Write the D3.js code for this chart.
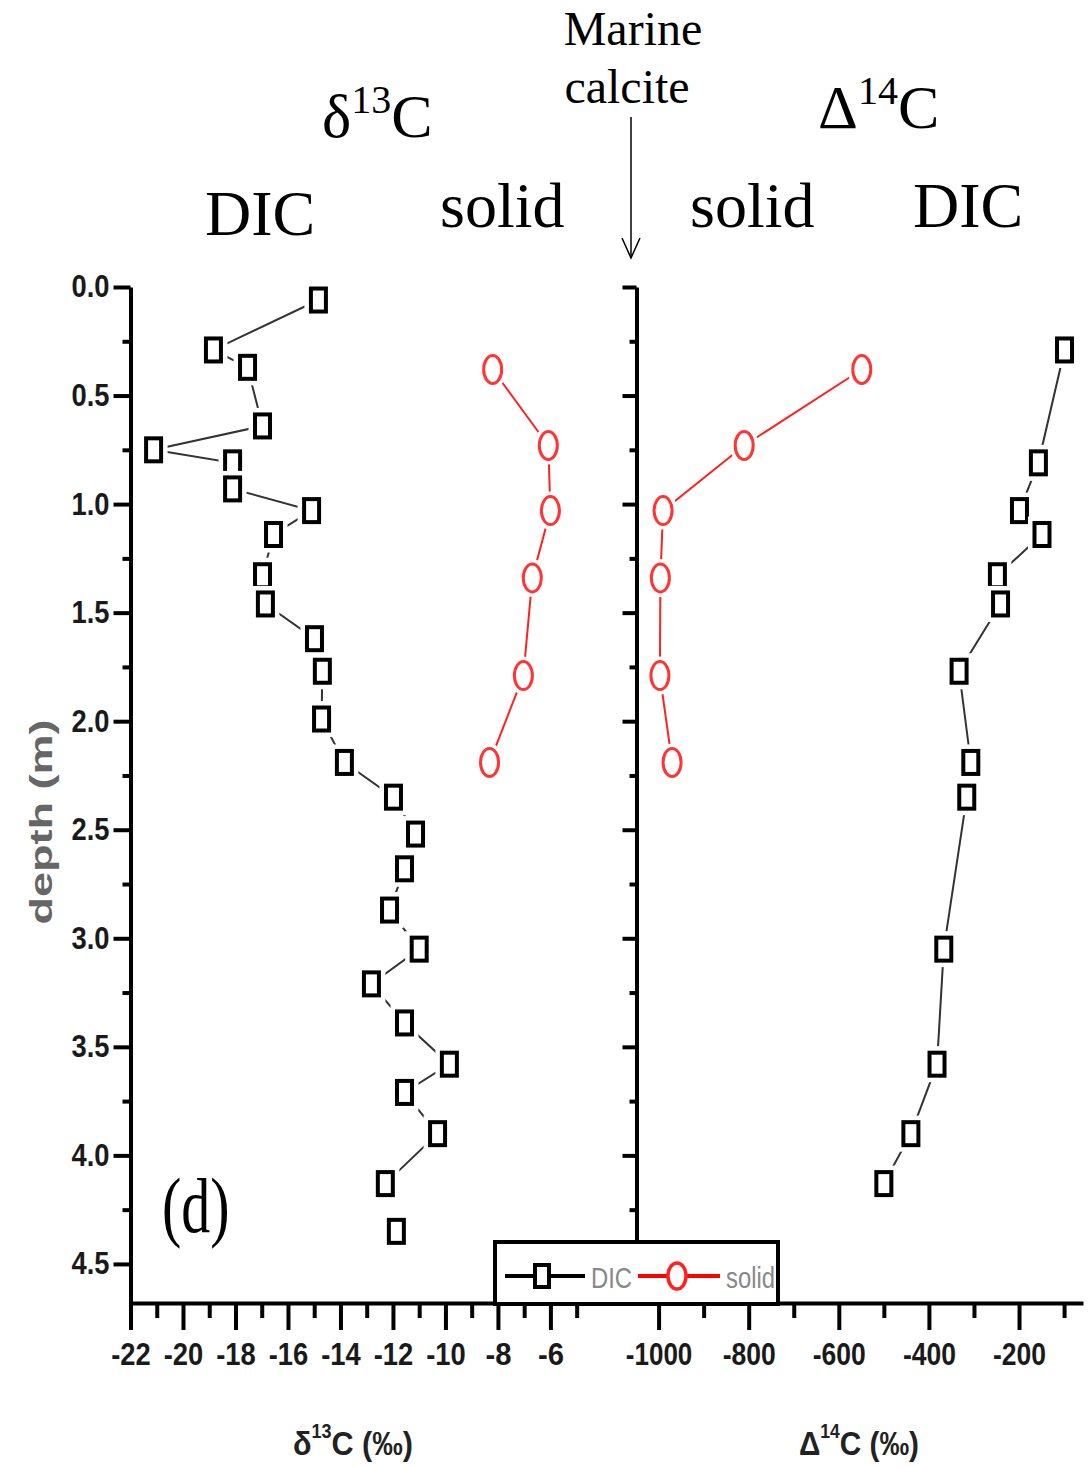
<!DOCTYPE html>
<html>
<head>
<meta charset="utf-8">
<script src="https://cdn.jsdelivr.net/npm/d3@7/dist/d3.min.js"></script>
<style>
  body { margin: 0; background: #fff; }
  .serif { font-family: "Liberation Serif", "Times New Roman", serif; fill: #000; }
  .tick text { font-family: "Liberation Sans", Arial, sans-serif; fill: #1a1a1a; font-weight: bold; }
</style>
</head>
<body>
<svg id="chart" width="1089" height="1467"></svg>
<script>
// depth (m) of the DIC samples, shared by both panels
var dicDepth = [0.06, 0.29, 0.37, 0.64, 0.75, 0.81, 0.93, 1.03, 1.14, 1.33, 1.46, 1.62, 1.77, 1.99,
  2.19, 2.35, 2.52, 2.68, 2.87, 3.05, 3.21, 3.39, 3.58, 3.71, 3.90, 4.13, 4.35];
var dicD13C = [-14.84, -18.84, -17.54, -16.97, -21.12, -18.11, -18.11, -15.10, -16.55, -16.97, -16.86, -14.99, -14.69, -14.72,
  -13.85, -11.98, -11.14, -11.56, -12.13, -11.0, -12.82, -11.56, -9.85, -11.56, -10.30, -12.29, -11.87];

var dic14Depth = [0.29, 0.81, 1.03, 1.14, 1.33, 1.46, 1.77, 2.19, 2.35, 3.05, 3.58, 3.90, 4.13];
var dicD14C = [-99, -157, -199, -149, -248, -241, -333, -307, -316, -367, -382, -440, -500];

var solidDepth = [0.38, 0.73, 1.03, 1.34, 1.79, 2.19];
var solidD13C = [-8.2, -6.08, -6.0, -6.69, -7.03, -8.32];
var solidD14C = [-549, -810, -990, -996, -997, -970];

var depthTicks = [0, 0.5, 1.0, 1.5, 2.0, 2.5, 3.0, 3.5, 4.0, 4.5];
var d13Ticks = [-22, -20, -18, -16, -14, -12, -10, -8, -6];
var d14Ticks = [-1000, -800, -600, -400, -200];

var svg = d3.select('#chart');

var y = d3.scaleLinear().domain([0, 4.68]).range([287, 1303]);
var xL = d3.scaleLinear().domain([-22, -2.72]).range([130.5, 636.5]);
var xR = d3.scaleLinear().domain([-1049, -58]).range([636.5, 1083]);

// squash tick labels like the original narrow font
function squash(sel, per) {
  sel.selectAll('.tick text').each(function () {
    var t = d3.select(this), s = t.text();
    t.attr('textLength', s.length * per - 1).attr('lengthAdjust', 'spacingAndGlyphs');
  });
}

function styleAxis(g) {
  g.select('.domain').attr('stroke', '#000').attr('stroke-width', 4);
  g.selectAll('.tick line').attr('stroke', '#000').attr('stroke-width', 4);
}

// left depth axis
var gy = svg.append('g').attr('transform', 'translate(130.5,0)')
  .call(d3.axisLeft(y).tickValues(depthTicks).tickSize(17).tickSizeOuter(0).tickPadding(4)
    .tickFormat(d3.format('.1f')));
gy.selectAll('.tick text').attr('font-size', 31);
squash(gy, 13);
styleAxis(gy);
svg.append('g').attr('transform', 'translate(130.5,0)')
  .call(d3.axisLeft(y).tickValues(d3.range(0.25, 4.5, 0.5)).tickSize(8).tickFormat(''))
  .call(styleAxis).select('.domain').remove();

// middle axis
var gm = svg.append('g').attr('transform', 'translate(636.5,0)')
  .call(d3.axisLeft(y).tickValues(depthTicks).tickSize(14).tickSizeOuter(0).tickFormat(''));
styleAxis(gm);
svg.append('g').attr('transform', 'translate(636.5,0)')
  .call(d3.axisLeft(y).tickValues(d3.range(0.25, 4.5, 0.5)).tickSize(7).tickFormat(''))
  .call(styleAxis).select('.domain').remove();

// bottom axes
function bottom(scale, major, minor) {
  var g = svg.append('g').attr('transform', 'translate(0,1303)')
    .call(d3.axisBottom(scale).tickValues(major).tickSize(27).tickSizeOuter(0).tickPadding(13)
      .tickFormat(d => d < 0 ? '-' + Math.abs(d) : d));
  g.selectAll('.tick text').attr('font-size', 31);
  squash(g, 13.5);
  styleAxis(g);
  svg.append('g').attr('transform', 'translate(0,1303)')
    .call(d3.axisBottom(scale).tickValues(minor).tickSize(15).tickFormat(''))
    .call(styleAxis).select('.domain').remove();
}
bottom(xL, d13Ticks, d3.range(-21, -4, 2));
bottom(xR, d14Ticks, d3.range(-900, -50, 200));

// series
function series(xs, ys, xScale, color, shape, joined) {
  var pts = xs.map((v, i) => [xScale(v), y(ys[i])]);
  var line = d3.line();
  svg.append('path').attr('d', line(pts.slice(0, joined)))
    .attr('fill', 'none').attr('stroke', color === 'red' ? '#ff2020' : '#333').attr('stroke-width', 2);
  var g = svg.append('g');
  pts.forEach(p => {
    if (shape === 'square') {
      g.append('rect').attr('x', p[0] - 9).attr('y', p[1] - 13).attr('width', 18).attr('height', 26)
        .attr('fill', '#fff').attr('stroke', '#fff').attr('stroke-width', 10);
      g.append('rect').attr('x', p[0] - 7.5).attr('y', p[1] - 11.5).attr('width', 15).attr('height', 23)
        .attr('fill', '#fff').attr('stroke', '#000').attr('stroke-width', 4);
    } else {
      g.append('ellipse').attr('cx', p[0]).attr('cy', p[1]).attr('rx', 10).attr('ry', 15)
        .attr('fill', '#fff').attr('stroke', '#fff').attr('stroke-width', 8);
      g.append('ellipse').attr('cx', p[0]).attr('cy', p[1]).attr('rx', 9).attr('ry', 14)
        .attr('fill', '#fff').attr('stroke', '#ff3535').attr('stroke-width', 3);
    }
  });
}
series(dicD13C, dicDepth, xL, 'black', 'square', dicDepth.length - 1);
series(solidD13C, solidDepth, xL, 'red', 'circle', solidDepth.length);
series(solidD14C, solidDepth, xR, 'red', 'circle', solidDepth.length);
series(dicD14C, dic14Depth, xR, 'black', 'square', dic14Depth.length);

// legend
var lg = svg.append('g');
lg.append('rect').attr('x', 495).attr('y', 1242).attr('width', 283).attr('height', 62)
  .attr('fill', '#fff').attr('stroke', '#000').attr('stroke-width', 4);
lg.append('line').attr('x1', 505).attr('x2', 585).attr('y1', 1276).attr('y2', 1276).attr('stroke', '#000').attr('stroke-width', 4);
lg.append('rect').attr('x', 535).attr('y', 1265).attr('width', 14).attr('height', 22)
  .attr('fill', '#fff').attr('stroke', '#000').attr('stroke-width', 4);
lg.append('line').attr('x1', 638).attr('x2', 720).attr('y1', 1276).attr('y2', 1276).attr('stroke', '#ff0000').attr('stroke-width', 4);
lg.append('ellipse').attr('cx', 677).attr('cy', 1276).attr('rx', 9).attr('ry', 13)
  .attr('fill', '#fff').attr('stroke', '#ff2020').attr('stroke-width', 3.5);
lg.append('text').attr('x', 591).attr('y', 1288).attr('font-size', 30).attr('fill', '#888')
  .attr('font-family', 'Liberation Sans, Arial, sans-serif')
  .attr('textLength', 41).attr('lengthAdjust', 'spacingAndGlyphs').text('DIC');
lg.append('text').attr('x', 726).attr('y', 1288).attr('font-size', 30).attr('fill', '#888')
  .attr('font-family', 'Liberation Sans, Arial, sans-serif')
  .attr('textLength', 49).attr('lengthAdjust', 'spacingAndGlyphs').text('solid');

// axis titles
svg.append('text').attr('transform', 'translate(52,822) rotate(-90)').attr('text-anchor', 'middle')
  .attr('font-family', 'Liberation Sans, Arial, sans-serif').attr('font-size', 32).attr('fill', '#666')
  .attr('font-weight', 'bold')
  .attr('textLength', 205).attr('lengthAdjust', 'spacingAndGlyphs').text('depth (m)');

function xTitle(x, sym, iso) {
  var t = svg.append('text').attr('x', x).attr('y', 1455)
    .attr('font-family', 'Liberation Sans, Arial, sans-serif').attr('font-size', 34).attr('fill', '#222')
    .attr('font-weight', 'bold')
    .attr('textLength', 120).attr('lengthAdjust', 'spacingAndGlyphs');
  t.append('tspan').text(sym);
  t.append('tspan').attr('font-size', 20).attr('dy', -17).text(iso);
  t.append('tspan').attr('dy', 17).text('C (‰)');
}
xTitle(293, 'δ', '13');
xTitle(799, 'Δ', '14');

// top annotations
function big(x, yy, s, size) {
  svg.append('text').attr('class', 'serif').attr('x', x).attr('y', yy).attr('font-size', size).text(s);
}
big(205, 235, 'DIC', 64);
big(440, 227, 'solid', 64);
big(690, 227, 'solid', 64);
big(913, 227, 'DIC', 64);

function iso(x, yy, sym, n) {
  var t = svg.append('text').attr('class', 'serif').attr('x', x).attr('y', yy).attr('font-size', 62);
  t.append('tspan').text(sym);
  t.append('tspan').attr('font-size', 40).attr('dy', -24).text(n);
  t.append('tspan').attr('dy', 24).text('C');
}
iso(322, 137, 'δ', '13');
iso(818, 128, 'Δ', '14');

svg.append('text').attr('class', 'serif').attr('x', 633).attr('y', 45).attr('text-anchor', 'middle')
  .attr('font-size', 48).text('Marine');
svg.append('text').attr('class', 'serif').attr('x', 627).attr('y', 103).attr('text-anchor', 'middle')
  .attr('font-size', 48).text('calcite');
svg.append('line').attr('x1', 631).attr('x2', 631).attr('y1', 117).attr('y2', 257)
  .attr('stroke', '#000').attr('stroke-width', 1.5);
svg.append('path').attr('d', 'M622,238 L631,258 L640,238').attr('fill', 'none')
  .attr('stroke', '#000').attr('stroke-width', 1.5);

// panel letter
svg.append('text').attr('class', 'serif').attr('transform', 'translate(162,1232) scale(1,1.35)')
  .attr('font-size', 58).attr('fill', '#1d2340').text('(d)');
</script>
</body>
</html>
